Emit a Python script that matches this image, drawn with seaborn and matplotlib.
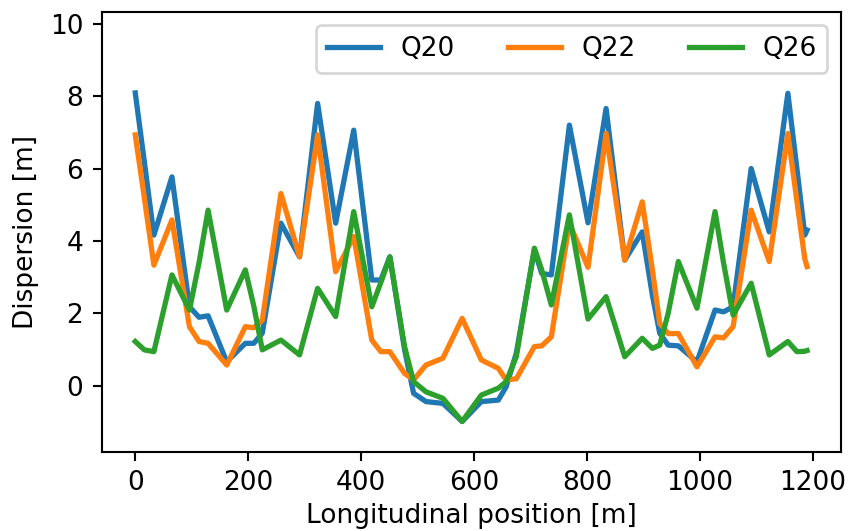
import numpy as np
import pandas as pd
import matplotlib
matplotlib.use("Agg")
import matplotlib.pyplot as plt
import seaborn as sns

# longitudinal positions [m] (shared by the three optics)
s = [0, 16, 33, 65, 96, 113, 129, 162, 195, 210, 225, 258, 291, 323, 355,
     387, 419, 435, 451, 477, 493, 515, 545, 579, 613, 643, 657, 675, 707,
     720, 737, 769, 802, 834, 867, 898, 916, 929, 944, 962, 995, 1027, 1042,
     1059, 1091, 1123, 1156, 1172, 1186, 1190]

# dispersion [m]
q20 = [8.09, 6.2, 4.16, 5.77, 2.18, 1.89, 1.93, 0.66, 1.17, 1.17, 1.45, 4.49,
       3.56, 7.8, 4.49, 7.06, 2.92, 2.92, 3.56, 1.0, -0.21, -0.44, -0.49,
       -0.99, -0.44, -0.4, -0.03, 0.9, 3.75, 3.1, 3.06, 7.2, 4.5, 7.66, 3.47,
       4.25, 2.5, 1.45, 1.12, 1.1, 0.66, 2.09, 2.04, 2.18, 6.0, 4.25, 8.08,
       6.0, 4.16, 4.3]
q22 = [6.93, 5.2, 3.33, 4.58, 1.63, 1.22, 1.17, 0.57, 1.63, 1.6, 1.81, 5.31,
       3.56, 6.93, 3.15, 4.12, 1.26, 0.94, 0.94, 0.34, 0.16, 0.57, 0.76, 1.86,
       0.71, 0.48, 0.16, 0.19, 1.08, 1.1, 1.35, 4.49, 3.27, 6.97, 3.47, 5.08,
       3.2, 1.72, 1.44, 1.44, 0.52, 1.35, 1.32, 1.63, 4.85, 3.43, 6.97, 5.1,
       3.5, 3.29]
q26 = [1.22, 0.99, 0.94, 3.06, 2.09, 3.4, 4.85, 2.09, 3.2, 2.2, 0.99, 1.26,
       0.85, 2.69, 1.91, 4.81, 2.18, 2.85, 3.56, 1.08, 0.11, -0.17, -0.35,
       -0.99, -0.26, -0.07, 0.11, 0.8, 3.8, 3.2, 2.23, 4.72, 1.84, 2.46, 0.8,
       1.31, 1.03, 1.12, 2.0, 3.43, 2.14, 4.81, 3.4, 1.95, 2.83, 0.85, 1.22,
       0.94, 0.95, 0.97]

labels = ["Q20", "Q22", "Q26"]
colors = ["#1f77b4", "#ff7f0e", "#2ca02c"]

df = pd.concat([
    pd.DataFrame({"s": s, "D": q20, "optics": "Q20"}),
    pd.DataFrame({"s": s, "D": q22, "optics": "Q22"}),
    pd.DataFrame({"s": s, "D": q26, "optics": "Q26"}),
])

fig, ax = plt.subplots(figsize=(850 / 190, 531 / 190), dpi=190)
fig.subplots_adjust(left=0.1196, right=0.989, bottom=0.149, top=0.977)

sns.lineplot(data=df, x="s", y="D", hue="optics", hue_order=labels,
             palette=colors, estimator=None, errorbar=None, linewidth=2,
             ax=ax)

ax.set_ylim(-1.83, 10.32)
ax.set_xlabel("Longitudinal position [m]", labelpad=2.5)
ax.set_ylabel("Dispersion [m]")
ax.legend(ncol=3, loc="upper right")

fig.savefig("out.png", dpi=190)
